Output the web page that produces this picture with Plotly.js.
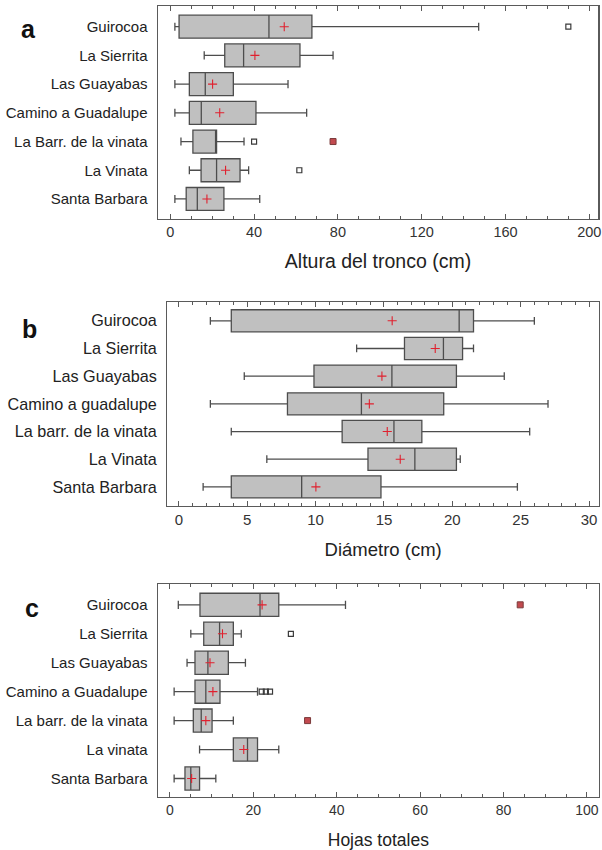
<!DOCTYPE html>
<html>
<head>
<meta charset="utf-8">
<script src="https://cdn.plot.ly/plotly-3.0.1.min.js"></script>
<style>
html,body{margin:0;padding:0;background:#fff;}
#chart{width:602px;height:850px;}
</style>
</head>
<body>
<div id="chart"></div>
<script>
// ---------- Panel a: Altura del tronco (cm) ----------
var catsA = ["Guirocoa", "La Sierrita", "Las Guayabas", "Camino a Guadalupe", "La Barr. de la vinata", "La Vinata", "Santa Barbara"];
var lowA  = [2.2, 16.2, 2.2, 2.2, 5.1, 9.1, 2.2];
var q1A   = [4.2, 26.0, 9.1, 9.1, 10.8, 14.7, 7.6];
var medA  = [47.1, 35.0, 16.7, 14.8, 21.7, 22.1, 12.9];
var q3A   = [67.6, 61.9, 30.1, 40.9, 22.1, 33.3, 25.6];
var highA = [147.2, 77.7, 56.2, 65.1, 35.2, 37.4, 42.7];
var meanA = [54.4, 40.4, 20.2, 23.6, null, 26.4, 17.5];
var outA_x = [190, 40.0, 61.6];
var outA_y = ["Guirocoa", "La Barr. de la vinata", "La Vinata"];
var farA_x = [77.7];
var farA_y = ["La Barr. de la vinata"];

// ---------- Panel b: Diámetro (cm) ----------
var catsB = ["Guirocoa", "La Sierrita", "Las Guayabas", "Camino a guadalupe", "La barr. de la vinata", "La Vinata", "Santa Barbara"];
var lowB  = [2.3, 13.0, 4.78, 2.3, 3.83, 6.43, 1.77];
var q1B   = [3.83, 16.5, 9.88, 7.94, 11.94, 13.83, 3.83];
var medB  = [20.5, 19.35, 15.58, 13.35, 15.73, 17.26, 8.98];
var q3B   = [21.55, 20.75, 20.3, 19.37, 17.77, 20.3, 14.78];
var highB = [26.0, 21.55, 23.8, 27.0, 25.66, 20.58, 24.76];
var meanB = [15.6, 18.75, 14.85, 13.93, 15.24, 16.19, 10.02];

// ---------- Panel c: Hojas totales ----------
var catsC = ["Guirocoa", "La Sierrita", "Las Guayabas", "Camino a Guadalupe", "La barr. de la vinata", "La vinata", "Santa Barbara"];
var lowC  = [2.0, 5.0, 4.1, 1.0, 1.0, 7.1, 1.0];
var q1C   = [7.2, 8.1, 6.0, 6.0, 5.6, 15.2, 3.6];
var medC  = [21.6, 11.9, 9.1, 8.6, 7.5, 18.6, 5.0];
var q3C   = [26.1, 15.2, 14.0, 12.0, 10.1, 21.0, 7.1];
var highC = [42.1, 17.1, 18.1, 21.0, 15.2, 26.1, 11.0];
var meanC = [22.1, 12.6, 9.6, 10.3, 8.6, 17.7, 5.2];
var outC_x = [29.0, 22.0, 23.0, 24.0];
var outC_y = ["La Sierrita", "Camino a Guadalupe", "Camino a Guadalupe", "Camino a Guadalupe"];
var farC_x = [84.0, 33.0];
var farC_y = ["Guirocoa", "La barr. de la vinata"];

var BOXFILL = "#c0c0c0", BOXLINE = "#4d4d4d", MEANC = "#e0202e", FRAME = "#5a5a5a";
var FONT = "Liberation Sans, Arial, sans-serif";

function boxTrace(cats, low, q1, med, q3, high, xa, ya) {
  return {
    type: "box", orientation: "h", y: cats,
    q1: q1, median: med, q3: q3, lowerfence: low, upperfence: high,
    fillcolor: BOXFILL, line: {color: BOXLINE, width: 1.3},
    width: 0.8, whiskerwidth: 0.35, boxpoints: false,
    xaxis: xa, yaxis: ya, hoverinfo: "skip", showlegend: false
  };
}
function meanTrace(cats, mean, xa, ya) {
  return {
    type: "scatter", mode: "markers", x: mean, y: cats,
    marker: {symbol: "cross-thin", size: 6.5, color: MEANC, line: {color: MEANC, width: 1.1}},
    xaxis: xa, yaxis: ya, hoverinfo: "skip", showlegend: false
  };
}
function outTrace(xs, ys, xa, ya) {
  return {
    type: "scatter", mode: "markers", x: xs, y: ys,
    marker: {symbol: "square-open", size: 5, color: "#3a3a3a", line: {color: "#3a3a3a", width: 1.2}},
    xaxis: xa, yaxis: ya, hoverinfo: "skip", showlegend: false
  };
}
function farTrace(xs, ys, xa, ya) {
  return {
    type: "scatter", mode: "markers", x: xs, y: ys,
    marker: {symbol: "square", size: 6, color: "#c24a4f", line: {color: "#7a3a3a", width: 1}},
    xaxis: xa, yaxis: ya, hoverinfo: "skip", showlegend: false
  };
}

var data = [
  boxTrace(catsA, lowA, q1A, medA, q3A, highA, "x", "y"),
  outTrace(outA_x, outA_y, "x", "y"),
  farTrace(farA_x, farA_y, "x", "y"),
  meanTrace(catsA, meanA, "x", "y"),
  boxTrace(catsB, lowB, q1B, medB, q3B, highB, "x2", "y2"),
  meanTrace(catsB, meanB, "x2", "y2"),
  boxTrace(catsC, lowC, q1C, medC, q3C, highC, "x3", "y3"),
  outTrace(outC_x, outC_y, "x3", "y3"),
  farTrace(farC_x, farC_y, "x3", "y3"),
  meanTrace(catsC, meanC, "x3", "y3")
];

function W(px) { return px / 602; }
function H(py) { return 1 - py / 850; }

function xax(domain, range, dtick, minor, title, anchor, tsize, fsize, standoff) {
  return {
    domain: domain, range: range, anchor: anchor, tick0: 0, dtick: dtick,
    ticks: "inside", ticklen: 5, tickwidth: 1, tickcolor: FRAME,
    minor: {dtick: minor, tick0: 0, ticks: "inside", ticklen: 3, tickwidth: 1, tickcolor: FRAME, showgrid: false},
    showline: true, linecolor: FRAME, linewidth: 1.2, mirror: "ticks",
    showgrid: false, zeroline: false,
    tickfont: {family: FONT, size: fsize, color: "#333"},
    title: {text: title, font: {family: FONT, size: tsize, color: "#222"}, standoff: standoff},
    automargin: false, fixedrange: true
  };
}
function yax(domain, range, anchor, fsize) {
  return {
    domain: domain, range: range, anchor: anchor, type: "category",
    ticks: "", showline: true, linecolor: FRAME, linewidth: 1.2, mirror: true,
    showgrid: false, zeroline: false, ticklabelstandoff: 6,
    tickfont: {family: FONT, size: fsize, color: "#222"},
    automargin: false, fixedrange: true
  };
}

var layout = {
  width: 602, height: 850,
  margin: {l: 0, r: 0, t: 0, b: 0},
  paper_bgcolor: "#ffffff", plot_bgcolor: "#ffffff",
  showlegend: false,
  xaxis:  xax([W(157.7), W(598.3)], [-6, 204.3], 40, 10, "Altura del tronco (cm)", "y", 19.5, 14.5, 15),
  yaxis:  yax([H(218.5), H(6)], [6.68, -0.72], "x", 15),
  xaxis2: xax([W(167.3), W(599)], [-0.85, 30.73], 5, 1, "Diámetro (cm)", "y2", 18.5, 15, 15),
  yaxis2: yax([H(506), H(301.7)], [6.69, -0.69], "x2", 16.2),
  xaxis3: xax([W(157.7), W(599)], [-2.94, 102.9], 20, 5, "Hojas totales", "y3", 17.5, 14, 17),
  yaxis3: yax([H(797), H(584)], [6.64, -0.72], "x3", 15),
  annotations: [
    {text: "<b>a</b>", xref: "paper", yref: "paper", x: W(28), y: H(29), showarrow: false, xanchor: "center", yanchor: "middle", font: {family: FONT, size: 25, color: "#111"}},
    {text: "<b>b</b>", xref: "paper", yref: "paper", x: W(29), y: H(329), showarrow: false, xanchor: "center", yanchor: "middle", font: {family: FONT, size: 25, color: "#111"}},
    {text: "<b>c</b>", xref: "paper", yref: "paper", x: W(32), y: H(608), showarrow: false, xanchor: "center", yanchor: "middle", font: {family: FONT, size: 25, color: "#111"}}
  ]
};

Plotly.newPlot("chart", data, layout, {staticPlot: true, displayModeBar: false});
</script>
</body>
</html>
